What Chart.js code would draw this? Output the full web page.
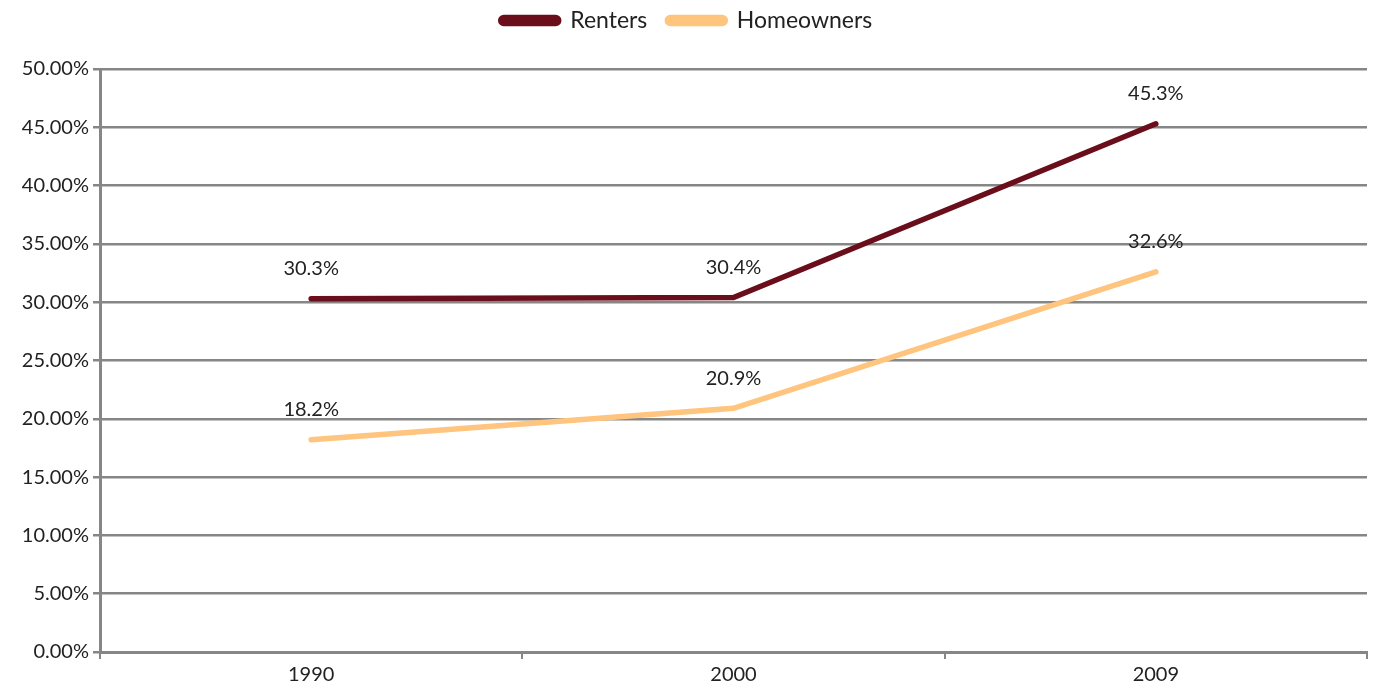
<!DOCTYPE html>
<html>
<head>
<meta charset="utf-8">
<script src="https://cdn.jsdelivr.net/npm/chart.js@4/dist/chart.umd.min.js"></script>
<style>
  html, body { margin: 0; padding: 0; background: #fff; }
  #wrap { width: 1373px; height: 691px; }
</style>
</head>
<body>
<div id="wrap"><canvas id="chart"></canvas></div>
<script>
// chart data
const years = ['1990', '2000', '2009'];
const renters = [30.3, 30.4, 45.3];
const homeowners = [18.2, 20.9, 32.6];

const gridColor = '#868686';
const textColor = '#222222';
const fontFamily = 'Lato, "Open Sans", sans-serif';

// draws the value above each point
const pointLabels = {
  id: 'pointLabels',
  afterDatasetsDraw(chart) {
    const ctx = chart.ctx;
    ctx.save();
    ctx.font = '20px ' + fontFamily;
    ctx.fillStyle = textColor;
    ctx.textAlign = 'center';
    ctx.textBaseline = 'middle';
    chart.data.datasets.forEach((ds, i) => {
      chart.getDatasetMeta(i).data.forEach((pt, j) => {
        ctx.fillText(ds.data[j].toFixed(1) + '%', pt.x, pt.y - 30);
      });
    });
    ctx.restore();
  }
};

// make the legend box taller so the plot starts lower,
// and draw the legend a bit higher in that box
const legendSpace = {
  id: 'legendSpace',
  beforeInit(chart) {
    const legend = chart.legend;
    const fit = legend.fit;
    legend.fit = function () {
      fit.call(this);
      this.height += 16;
    };
    const draw = legend.draw;
    legend.draw = function () {
      const ctx = this.ctx;
      ctx.save();
      ctx.translate(3, -11);
      draw.call(this);
      ctx.restore();
    };
  }
};

new Chart(document.getElementById('chart'), {
  type: 'line',
  data: {
    labels: years,
    datasets: [
      {
        label: 'Renters',
        data: renters,
        borderColor: '#6b0e1b',
        backgroundColor: '#6b0e1b',
        borderWidth: 5.5,
        pointRadius: 0,
        tension: 0,
        borderCapStyle: 'round'
      },
      {
        label: 'Homeowners',
        data: homeowners,
        borderColor: '#ffc47d',
        backgroundColor: '#ffc47d',
        borderWidth: 5.5,
        pointRadius: 0,
        tension: 0,
        borderCapStyle: 'round'
      }
    ]
  },
  options: {
    responsive: true,
    maintainAspectRatio: false,
    animation: false,
    layout: { padding: { top: 0, right: 6, left: 0, bottom: 0 } },
    plugins: {
      tooltip: { enabled: false },
      legend: {
        position: 'top',
        labels: {
          boxWidth: 58,
          boxHeight: 6,
          padding: 20,
          color: textColor,
          font: { size: 23, family: fontFamily },
          useBorderRadius: true,
          borderRadius: 3
        }
      }
    },
    scales: {
      x: {
        offset: true,
        grid: {
          offset: true,
          drawOnChartArea: false,
          color: gridColor,
          lineWidth: 2,
          tickLength: 7
        },
        border: { color: gridColor, width: 3 },
        ticks: { color: textColor, font: { size: 20, family: fontFamily }, padding: 4 },
        afterFit(scale) { scale.height = 39; }
      },
      y: {
        min: 0,
        max: 50,
        grid: { color: gridColor, lineWidth: 2.5, tickLength: 7 },
        border: { color: gridColor, width: 3 },
        ticks: {
          stepSize: 5,
          color: textColor,
          font: { size: 20, family: fontFamily },
          padding: 4,
          callback: v => v.toFixed(2) + '%'
        },
        afterFit(scale) { scale.width = 100; }
      }
    }
  },
  plugins: [pointLabels, legendSpace]
});
</script>
</body>
</html>
